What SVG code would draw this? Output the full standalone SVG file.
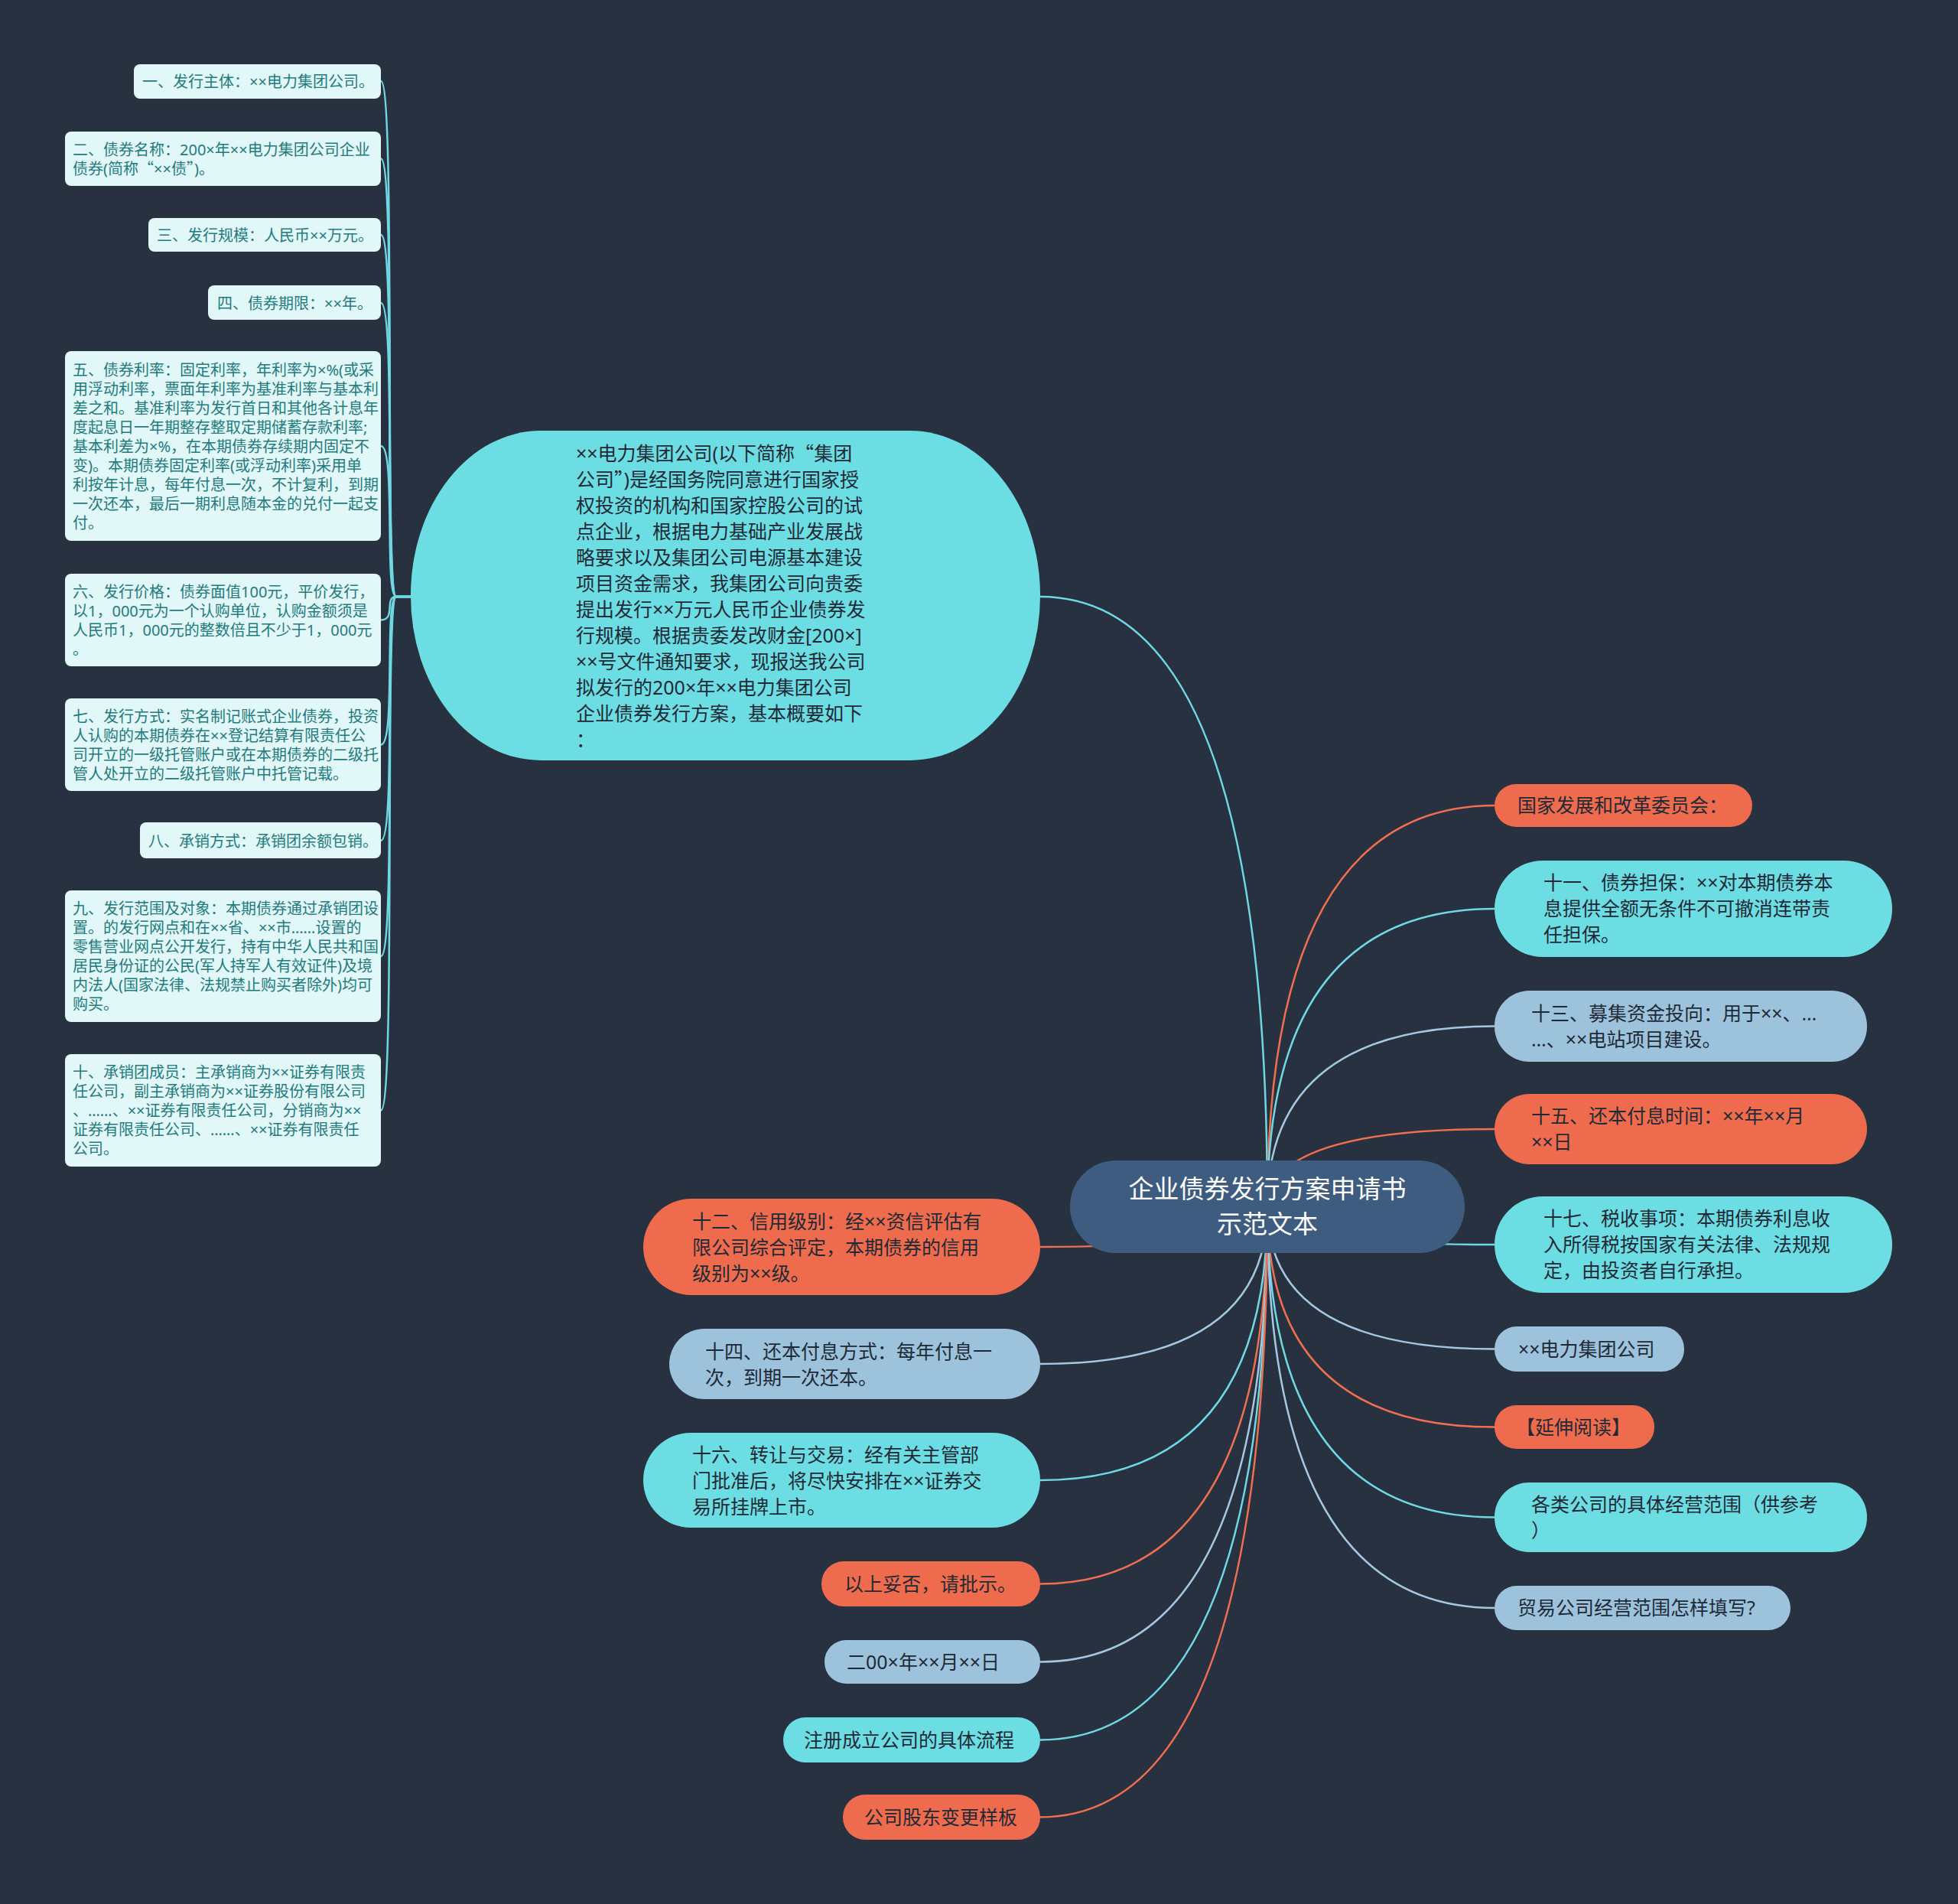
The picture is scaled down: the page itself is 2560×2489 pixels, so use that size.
<svg xmlns="http://www.w3.org/2000/svg" width="2560" height="2489" viewBox="0 0 2560 2489">
<style>
text{font-family:"Noto Sans","Noto Sans CJK SC",sans-serif;}
.q{font-family:"Noto Sans CJK SC",sans-serif;}
.bg{fill:#283140;}
.sm rect{fill:#e1f7f8;}
.sm text{font-size:20px;fill:#237b7d;}
.big text{font-size:25px;fill:#1f2a36;}
.or rect{fill:#ee6c4d;}
.cy rect{fill:#6cdde3;}
.lb rect{fill:#9cc2dc;}
.root rect{fill:#3e5b80;}
.root text{font-size:33px;fill:#ffffff;text-anchor:middle;}
.c{fill:none;stroke-width:2.5;}
.co{stroke:#ef6f50;}
.cc{stroke:#6fd8e2;}
.cb{stroke:#a4c8e1;}
</style>
<rect class="bg" x="0" y="0" width="2560" height="2489"/>
<g id="connectors">
<g class="c cc">
<path d="M537,780 L518,780 C502,780 518,106 498,106"/>
<path d="M537,780 L518,780 C502,780 518,207.5 498,207.5"/>
<path d="M537,780 L518,780 C502,780 518,307 498,307"/>
<path d="M537,780 L518,780 C502,780 518,396 498,396"/>
<path d="M537,780 L518,780 C502,780 518,583 498,583"/>
<path d="M537,780 L518,780 C502,780 518,810.5 498,810.5"/>
<path d="M537,780 L518,780 C502,780 518,973.5 498,973.5"/>
<path d="M537,780 L518,780 C502,780 518,1099 498,1099"/>
<path d="M537,780 L518,780 C502,780 518,1250 498,1250"/>
<path d="M537,780 L518,780 C502,780 518,1451.5 498,1451.5"/>
</g>
<path class="c cc" d="M1657,1578 Q1657,780 1360,780"/>
<path class="c co" d="M1657,1578 Q1657,1053 1954,1053"/>
<path class="c cc" d="M1657,1578 Q1657,1188 1954,1188"/>
<path class="c cb" d="M1657,1578 Q1657,1341.5 1954,1341.5"/>
<path class="c co" d="M1657,1578 Q1657,1476 1954,1476"/>
<path class="c cc" d="M1657,1578 Q1657,1627 1954,1627"/>
<path class="c cb" d="M1657,1578 Q1657,1763.5 1954,1763.5"/>
<path class="c co" d="M1657,1578 Q1657,1865.5 1954,1865.5"/>
<path class="c cc" d="M1657,1578 Q1657,1983.5 1954,1983.5"/>
<path class="c cb" d="M1657,1578 Q1657,2102 1954,2102"/>
<path class="c co" d="M1657,1578 Q1657,1630 1360,1630"/>
<path class="c cb" d="M1657,1578 Q1657,1783 1360,1783"/>
<path class="c cc" d="M1657,1578 Q1657,1935 1360,1935"/>
<path class="c co" d="M1657,1578 Q1657,2070.5 1360,2070.5"/>
<path class="c cb" d="M1657,1578 Q1657,2172.5 1360,2172.5"/>
<path class="c cc" d="M1657,1578 Q1657,2274.5 1360,2274.5"/>
<path class="c co" d="M1657,1578 Q1657,2375.5 1360,2375.5"/>
</g>

<g id="n1" class="sm"><rect x="175" y="84" width="323" height="45" rx="8"/><text x="186" y="114">一、发行主体：××电力集团公司。</text></g>
<g id="n2" class="sm"><rect x="85" y="172" width="413" height="71" rx="8"/><text x="95" y="203">二、债券名称：200×年××电力集团公司企业</text><text x="95" y="228">债券(简称<tspan class="q">“</tspan>××债<tspan class="q">”</tspan>)。</text></g>
<g id="n3" class="sm"><rect x="194" y="285" width="304" height="44" rx="8"/><text x="205" y="315">三、发行规模：人民币××万元。</text></g>
<g id="n4" class="sm"><rect x="272" y="373" width="226" height="45" rx="8"/><text x="284" y="404">四、债券期限：××年。</text></g>
<g id="n5" class="sm"><rect x="85" y="459" width="413" height="248" rx="8"/>
<text x="95" y="491">五、债券利率：固定利率，年利率为×%(或采</text>
<text x="95" y="516">用浮动利率，票面年利率为基准利率与基本利</text>
<text x="95" y="541">差之和。基准利率为发行首日和其他各计息年</text>
<text x="95" y="566">度起息日一年期整存整取定期储蓄存款利率;</text>
<text x="95" y="591">基本利差为×%，在本期债券存续期内固定不</text>
<text x="95" y="616">变)。本期债券固定利率(或浮动利率)采用单</text>
<text x="95" y="641">利按年计息，每年付息一次，不计复利，到期</text>
<text x="95" y="666">一次还本，最后一期利息随本金的兑付一起支</text>
<text x="95" y="691">付。</text></g>
<g id="n6" class="sm"><rect x="85" y="750" width="413" height="121" rx="8"/>
<text x="95" y="781">六、发行价格：债券面值100元，平价发行，</text>
<text x="95" y="806">以1，000元为一个认购单位，认购金额须是</text>
<text x="95" y="831">人民币1，000元的整数倍且不少于1，000元</text>
<text x="95" y="856">。</text></g>
<g id="n7" class="sm"><rect x="85" y="913" width="413" height="121" rx="8"/>
<text x="95" y="944">七、发行方式：实名制记账式企业债券，投资</text>
<text x="95" y="969">人认购的本期债券在××登记结算有限责任公</text>
<text x="95" y="994">司开立的一级托管账户或在本期债券的二级托</text>
<text x="95" y="1019">管人处开立的二级托管账户中托管记载。</text></g>
<g id="n8" class="sm"><rect x="183" y="1075" width="315" height="47" rx="8"/><text x="194" y="1107">八、承销方式：承销团余额包销。</text></g>
<g id="n9" class="sm"><rect x="85" y="1164" width="413" height="172" rx="8"/>
<text x="95" y="1195">九、发行范围及对象：本期债券通过承销团设</text>
<text x="95" y="1220">置。的发行网点和在××省、××市……设置的</text>
<text x="95" y="1245">零售营业网点公开发行，持有中华人民共和国</text>
<text x="95" y="1270">居民身份证的公民(军人持军人有效证件)及境</text>
<text x="95" y="1295">内法人(国家法律、法规禁止购买者除外)均可</text>
<text x="95" y="1320">购买。</text></g>
<g id="n10" class="sm"><rect x="85" y="1378" width="413" height="147" rx="8"/>
<text x="95" y="1409">十、承销团成员：主承销商为××证券有限责</text>
<text x="95" y="1434">任公司，副主承销商为××证券股份有限公司</text>
<text x="95" y="1459">、……、××证券有限责任公司，分销商为××</text>
<text x="95" y="1484">证券有限责任公司、……、××证券有限责任</text>
<text x="95" y="1509">公司。</text></g>

<g id="intro" class="big cy"><rect x="537" y="563" width="823" height="431" rx="170" ry="215"/>
<text x="753" y="602">××电力集团公司(以下简称<tspan class="q">“</tspan>集团</text>
<text x="753" y="636">公司<tspan class="q">”</tspan>)是经国务院同意进行国家授</text>
<text x="753" y="670">权投资的机构和国家控股公司的试</text>
<text x="753" y="704">点企业，根据电力基础产业发展战</text>
<text x="753" y="738">略要求以及集团公司电源基本建设</text>
<text x="753" y="772">项目资金需求，我集团公司向贵委</text>
<text x="753" y="806">提出发行××万元人民币企业债券发</text>
<text x="753" y="840">行规模。根据贵委发改财金[200×]</text>
<text x="753" y="874">××号文件通知要求，现报送我公司</text>
<text x="753" y="908">拟发行的200×年××电力集团公司</text>
<text x="753" y="942">企业债券发行方案，基本概要如下</text>
<text x="753" y="976">：</text></g>

<g id="r1" class="big or"><rect x="1954" y="1025" width="337" height="56" rx="28"/><text x="1984" y="1062">国家发展和改革委员会：</text></g>
<g id="r2" class="big cy"><rect x="1954" y="1125" width="520" height="126" rx="63"/>
<text x="2018" y="1163">十一、债券担保：××对本期债券本</text>
<text x="2018" y="1197">息提供全额无条件不可撤消连带责</text>
<text x="2018" y="1231">任担保。</text></g>
<g id="r3" class="big lb"><rect x="1954" y="1295" width="487" height="93" rx="46"/>
<text x="2002" y="1334">十三、募集资金投向：用于××、…</text>
<text x="2002" y="1368">…、××电站项目建设。</text></g>
<g id="r4" class="big or"><rect x="1954" y="1430" width="487" height="92" rx="46"/>
<text x="2002" y="1468">十五、还本付息时间：××年××月</text>
<text x="2002" y="1502">××日</text></g>
<g id="r5" class="big cy"><rect x="1954" y="1564" width="520" height="126" rx="63"/>
<text x="2018" y="1602">十七、税收事项：本期债券利息收</text>
<text x="2018" y="1636">入所得税按国家有关法律、法规规</text>
<text x="2018" y="1670">定，由投资者自行承担。</text></g>
<g id="r6" class="big lb"><rect x="1954" y="1734" width="248" height="59" rx="29"/><text x="1985" y="1773">××电力集团公司</text></g>
<g id="r7" class="big or"><rect x="1954" y="1837" width="209" height="57" rx="28"/><text x="1982" y="1875">【延伸阅读】</text></g>
<g id="r8" class="big cy"><rect x="1954" y="1938" width="487" height="91" rx="45"/>
<text x="2002" y="1976">各类公司的具体经营范围（供参考</text>
<text x="2002" y="2010">）</text></g>
<g id="r9" class="big lb"><rect x="1954" y="2073" width="387" height="58" rx="29"/><text x="1984" y="2111">贸易公司经营范围怎样填写?</text></g>

<g id="l1" class="big or"><rect x="841" y="1567" width="519" height="126" rx="63"/>
<text x="905" y="1606">十二、信用级别：经××资信评估有</text>
<text x="905" y="1640">限公司综合评定，本期债券的信用</text>
<text x="905" y="1674">级别为××级。</text></g>
<g id="l2" class="big lb"><rect x="875" y="1737" width="485" height="92" rx="46"/>
<text x="922" y="1776">十四、还本付息方式：每年付息一</text>
<text x="922" y="1810">次，到期一次还本。</text></g>
<g id="l3" class="big cy"><rect x="841" y="1873" width="519" height="124" rx="62"/>
<text x="905" y="1911">十六、转让与交易：经有关主管部</text>
<text x="905" y="1945">门批准后，将尽快安排在××证券交</text>
<text x="905" y="1979">易所挂牌上市。</text></g>
<g id="l4" class="big or"><rect x="1074" y="2041" width="286" height="59" rx="29"/><text x="1104" y="2080">以上妥否，请批示。</text></g>
<g id="l5" class="big lb"><rect x="1078" y="2144" width="282" height="57" rx="28"/><text x="1107" y="2182">二00×年××月××日</text></g>
<g id="l6" class="big cy"><rect x="1024" y="2245" width="336" height="59" rx="29"/><text x="1051" y="2284">注册成立公司的具体流程</text></g>
<g id="l7" class="big or"><rect x="1102" y="2346" width="258" height="59" rx="29"/><text x="1130" y="2385">公司股东变更样板</text></g>

<g id="root" class="root"><rect x="1399" y="1517" width="516" height="121" rx="60"/>
<text x="1657" y="1566">企业债券发行方案申请书</text>
<text x="1657" y="1612">示范文本</text></g>
</svg>
